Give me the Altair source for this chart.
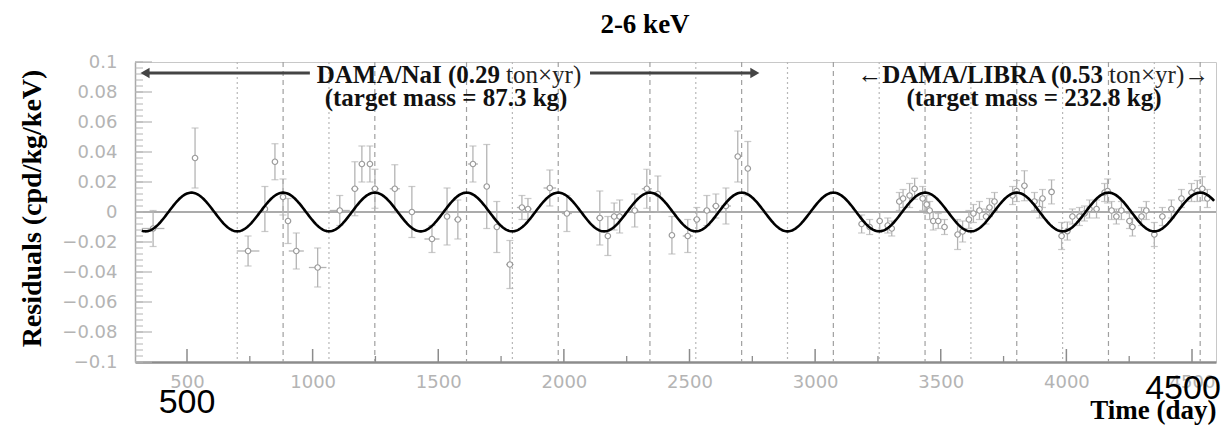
import altair as alt
import pandas as pd

# ---- DAMA/NaI residuals (day, residual, vertical error, half bin width) ----
nai_day = [365, 532, 743, 810, 850, 882, 902, 935, 1020, 1108, 1168, 1196, 1228, 1248,
           1327, 1395, 1475, 1535, 1578, 1638, 1693, 1733, 1785, 1833, 1857, 1944, 2012,
           2143, 2175, 2200, 2222, 2282, 2330, 2374, 2430, 2493, 2529, 2569, 2605, 2645,
           2692, 2732]
nai_res = [-0.011, 0.036, -0.026, 0.002, 0.0335, 0.010, -0.006, -0.026, -0.037, 0.001,
           0.0155, 0.032, 0.032, 0.0155, 0.0155, 0.0, -0.018, -0.003, -0.005, 0.032,
           0.017, -0.010, -0.035, 0.003, 0.002, 0.016, -0.001, -0.004, -0.016, -0.003,
           -0.003, 0.001, 0.0155, 0.012, -0.0155, -0.016, -0.005, 0.001, 0.004, 0.004,
           0.037, 0.029]
nai_err = [0.012, 0.020, 0.010, 0.015, 0.012, 0.012, 0.015, 0.012, 0.013, 0.010,
           0.018, 0.012, 0.012, 0.013, 0.016, 0.017, 0.009, 0.019, 0.013, 0.012,
           0.028, 0.017, 0.016, 0.008, 0.007, 0.012, 0.012, 0.018, 0.013, 0.009,
           0.011, 0.011, 0.013, 0.012, 0.0125, 0.011, 0.008, 0.010, 0.008, 0.012,
           0.017, 0.018]
nai_bin = [45, 10, 45, 10, 10, 10, 10, 30, 35, 40, 15, 12, 12, 15, 20, 15, 30, 10, 15,
           20, 10, 10, 15, 20, 15, 25, 20, 15, 10, 10, 10, 15, 20, 10, 10, 20, 15, 15,
           15, 20, 10, 10]

# ---- DAMA/LIBRA residuals ----
libra_day = [3185, 3217, 3257, 3289, 3305, 3335, 3350, 3376, 3396, 3428, 3444, 3456,
             3470, 3490, 3515, 3567, 3587, 3612, 3630, 3654, 3680, 3694, 3714, 3786,
             3802, 3833, 3873, 3893, 3905, 3941, 3981, 4004, 4024, 4052, 4072, 4092,
             4120, 4152, 4164, 4180, 4199, 4219, 4251, 4263, 4299, 4318, 4350, 4382,
             4418, 4458, 4498, 4521, 4541, 4561]
libra_res = [-0.008, -0.010, -0.006, -0.009, -0.011, 0.007, 0.009, 0.011, 0.0155, 0.009,
             0.005, 0.001, -0.006, -0.006, -0.010, -0.015, -0.013, -0.005, -0.001, 0.001,
             -0.003, 0.003, 0.007, 0.011, 0.014, 0.0175, 0.007, 0.002, 0.009, 0.0134,
             -0.016, -0.0127, -0.003, -0.003, -0.001, 0.002, 0.002, 0.013, 0.014, 0.001,
             -0.003, 0.001, -0.006, -0.010, -0.003, 0.001, -0.015, -0.003, 0.002, 0.009,
             0.013, 0.014, 0.0155, 0.009]
libra_err = [0.006, 0.005, 0.006, 0.005, 0.005, 0.006, 0.006, 0.008, 0.007, 0.008,
             0.006, 0.006, 0.006, 0.005, 0.005, 0.010, 0.007, 0.006, 0.006, 0.006,
             0.005, 0.006, 0.006, 0.006, 0.007, 0.010, 0.006, 0.006, 0.006, 0.008,
             0.009, 0.006, 0.005, 0.006, 0.005, 0.006, 0.006, 0.006, 0.008, 0.006,
             0.005, 0.006, 0.005, 0.006, 0.006, 0.006, 0.008, 0.006, 0.006, 0.006,
             0.006, 0.007, 0.008, 0.006]
libra_bin = [12] * len(libra_day)

# ---- modulation curve A*cos(w(t - t0)) ----
AMPLITUDE = 0.0129
PERIOD = 365.0
PHASE = 152.5
CURVE_START, CURVE_END = 320, 4592

# ---- reference lines: expected maxima (2 June) and minima ----
max_days = [882.5, 1247.5, 1612.5, 1977.5, 2342.5, 2707.5, 3072.5, 3437.5, 3802.5,
            4167.5, 4532.5]
min_days = [700, 1065, 1795, 2525, 2890, 3255, 3620, 3985, 4350]

# ---- axes ----
x_ticks = [500, 1000, 1500, 2000, 2500, 3000, 3500, 4000, 4500]
x_minor = [750, 1250, 1750, 2250, 2750, 3250, 3750, 4250]
y_ticks = [-0.1, -0.08, -0.06, -0.04, -0.02, 0, 0.02, 0.04, 0.06, 0.08, 0.1]
y_minor = [round(-0.1 + 0.004 * i, 3) for i in range(51)]

W, H = 1081, 300
GREY = "#9a9a9a"
LIGHT = "#b4b4b4"
SERIF = "Liberation Serif"

xs = alt.Scale(domain=[293, 4595.5], nice=False, zero=False)
ys = alt.Scale(domain=[-0.1, 0.1], nice=False, zero=False)


def xq(field):
    return alt.X(field, type="quantitative", scale=xs)


def yq(field):
    return alt.Y(field, type="quantitative", scale=ys)


pts = pd.DataFrame({
    "day": nai_day + libra_day,
    "res": nai_res + libra_res,
    "err": nai_err + libra_err,
    "bin": nai_bin + libra_bin,
})

X = alt.X("day:Q", scale=xs, title="Time (day)",
          axis=alt.Axis(values=x_ticks, tickCount=40, ticks=False, grid=False,
                        format="d", labelOverlap=False, labelPadding=11,
                        domainColor="#8c8c8c", domainWidth=2.5,
                        titleAnchor="end", titleAlign="right",
                        titleBaseline="alphabetic", titleX=W, titleY=56))
Y = alt.Y("res:Q", scale=ys, title="Residuals (cpd/kg/keV)",
          axis=alt.Axis(values=y_ticks, tickCount=40, ticks=False, grid=False,
                        format=".2~f", labelOverlap=False, labelPadding=18,
                        domainColor="#a8a8a8", domainWidth=1.5,
                        titleAngle=-90, titleAlign="center", titleBaseline="alphabetic",
                        titleX=-95, titleY=146))

base = alt.Chart(pts).transform_calculate(
    lo="datum.res - datum.err", hi="datum.res + datum.err",
    left="datum.day - datum.bin", right="datum.day + datum.bin")

# invisible layer that carries the axes
axes_layer = alt.Chart(pts).mark_point(opacity=0).encode(x=X, y=Y)

points_layer = base.mark_point(shape="circle", size=30, filled=True, fill="white",
                               stroke=GREY, strokeWidth=1.2, opacity=1).encode(
    x=xq("day"), y=yq("res"))
vbars = base.mark_rule(color=LIGHT, strokeWidth=1.3).encode(
    x=xq("day"), y=yq("lo"), y2="hi:Q")
hbars = base.mark_rule(color=LIGHT, strokeWidth=1.3).encode(
    x=xq("left"), x2="right:Q", y=yq("res"))
cap_hi = base.mark_tick(orient="horizontal", size=7, thickness=1.2, color=LIGHT).encode(
    x=xq("day"), y=yq("hi"))
cap_lo = base.mark_tick(orient="horizontal", size=7, thickness=1.2, color=LIGHT).encode(
    x=xq("day"), y=yq("lo"))

curve = alt.Chart(alt.sequence(CURVE_START, CURVE_END, 4, as_="t")).transform_calculate(
    r=f"{AMPLITUDE} * cos(2 * PI * (datum.t - {PHASE}) / {PERIOD})"
).mark_line(color="black", strokeWidth=2.6).encode(x=xq("t"), y=yq("r"))

max_lines = alt.Chart(pd.DataFrame({"d": max_days})).mark_rule(
    color="#a0a0a0", strokeWidth=1.2, strokeDash=[5, 4]).encode(x=xq("d"))
min_lines = alt.Chart(pd.DataFrame({"d": min_days})).mark_rule(
    color="#b8b8b8", strokeWidth=1.2, strokeDash=[2, 3]).encode(x=xq("d"))
zero_line = alt.Chart(pd.DataFrame({"v": [0]})).mark_rule(
    color="#8f8f8f", strokeWidth=1.4).encode(y=yq("v"))

# inward-pointing ticks along the left and bottom axes
ytick_major = alt.Chart(pd.DataFrame({"v": y_ticks})).mark_rule(
    color=LIGHT, strokeWidth=1.2).encode(y=yq("v"), x=alt.value(0), x2=alt.value(17))
ytick_minor = alt.Chart(pd.DataFrame({"v": y_minor})).mark_rule(
    color=LIGHT, strokeWidth=1).encode(y=yq("v"), x=alt.value(0), x2=alt.value(8))
xtick_major = alt.Chart(pd.DataFrame({"v": x_ticks})).mark_rule(
    color="#8c8c8c", strokeWidth=1.5).encode(
    x=xq("v"), y=alt.value(H), y2=alt.value(H - 13))
xtick_minor = alt.Chart(pd.DataFrame({"v": x_minor})).mark_rule(
    color="#8c8c8c", strokeWidth=1.3).encode(
    x=xq("v"), y=alt.value(H), y2=alt.value(H - 6))

# exposure annotations: bold part right-aligned at a split day, regular part after it
head_bold = pd.DataFrame({
    "day": [1746, 4146],
    "y": [0.086, 0.086],
    "label": ["DAMA/NaI (0.29", "←DAMA/LIBRA (0.53"],
})
head_reg = pd.DataFrame({
    "day": [1746, 4146],
    "y": [0.086, 0.086],
    "label": ["ton×yr)", "ton×yr)→"],
})
mass_lines = pd.DataFrame({
    "day": [1531, 3871],
    "y": [0.0707, 0.0707],
    "label": ["(target mass = 87.3 kg)", "(target mass = 232.8 kg)"],
})
note_bold = alt.Chart(head_bold).mark_text(
    font=SERIF, fontSize=25, fontWeight="bold", color="#111", baseline="alphabetic",
    align="right").encode(x=xq("day"), y=yq("y"), text="label:N")
note_reg = alt.Chart(head_reg).mark_text(
    font=SERIF, fontSize=25, fontWeight="normal", color="#222", baseline="alphabetic",
    align="left", dx=6).encode(x=xq("day"), y=yq("y"), text="label:N")
note_mass = alt.Chart(mass_lines).mark_text(
    font=SERIF, fontSize=25, fontWeight="bold", color="#111", baseline="alphabetic",
    align="center").encode(x=xq("day"), y=yq("y"), text="label:N")

arrows = pd.DataFrame({"a": [333, 2104], "b": [989, 2760], "y": [0.0927, 0.0927]})
arrow_shaft = alt.Chart(arrows).mark_rule(color="#444", strokeWidth=3).encode(
    x=xq("a"), x2="b:Q", y=yq("y"))
heads = pd.DataFrame({"d": [333, 2760], "y": [0.0927, 0.0927],
                      "s": ["triangle-left", "triangle-right"]})
arrow_heads = alt.Chart(heads).mark_point(filled=True, size=110, color="#444",
                                          opacity=1).encode(
    x=xq("d"), y=yq("y"), shape=alt.Shape("s:N", scale=None, legend=None))

# energy window heading above the frame
heading = alt.Chart(pd.DataFrame({"t": ["2-6 keV"]})).mark_text(
    font=SERIF, fontSize=27, fontWeight="bold", color="black", baseline="alphabetic",
    align="center").encode(x=alt.value(510), y=alt.value(-29), text="t:N")

# large day markers under the axis
big500 = alt.Chart(pd.DataFrame({"d": [500], "t": ["500"]})).mark_text(
    font="Liberation Sans", fontSize=34, color="black", baseline="alphabetic",
    align="center").encode(x=xq("d"), y=alt.value(H + 51), text="t:N")
big4500 = alt.Chart(pd.DataFrame({"d": [4500], "t": ["4500"]})).mark_text(
    font="Liberation Sans", fontSize=34, color="black", baseline="alphabetic",
    align="center", dx=-9).encode(x=xq("d"), y=alt.value(H + 37), text="t:N")

chart = alt.layer(
    axes_layer,
    max_lines, min_lines, zero_line, ytick_minor, ytick_major, xtick_minor, xtick_major,
    vbars, hbars, cap_hi, cap_lo, points_layer, curve,
    arrow_shaft, arrow_heads, note_bold, note_reg, note_mass, heading, big500, big4500,
).properties(
    width=W, height=H,
    autosize=alt.AutoSizeParams(type="none"),
    padding={"left": 135, "top": 62, "right": 9, "bottom": 64},
).configure_view(
    stroke="#c8c8c8", strokeWidth=1
).configure_axis(
    labelOverlap=False, labelColor=LIGHT, labelFont="DejaVu Sans", labelFontSize=18,
    titleFont=SERIF, titleFontWeight="bold", titleColor="black", grid=False,
    ticks=False,
).configure_axisX(titleFontSize=27).configure_axisY(titleFontSize=28)

chart.save("out.html", embed_options={"renderer": "svg", "actions": False})
